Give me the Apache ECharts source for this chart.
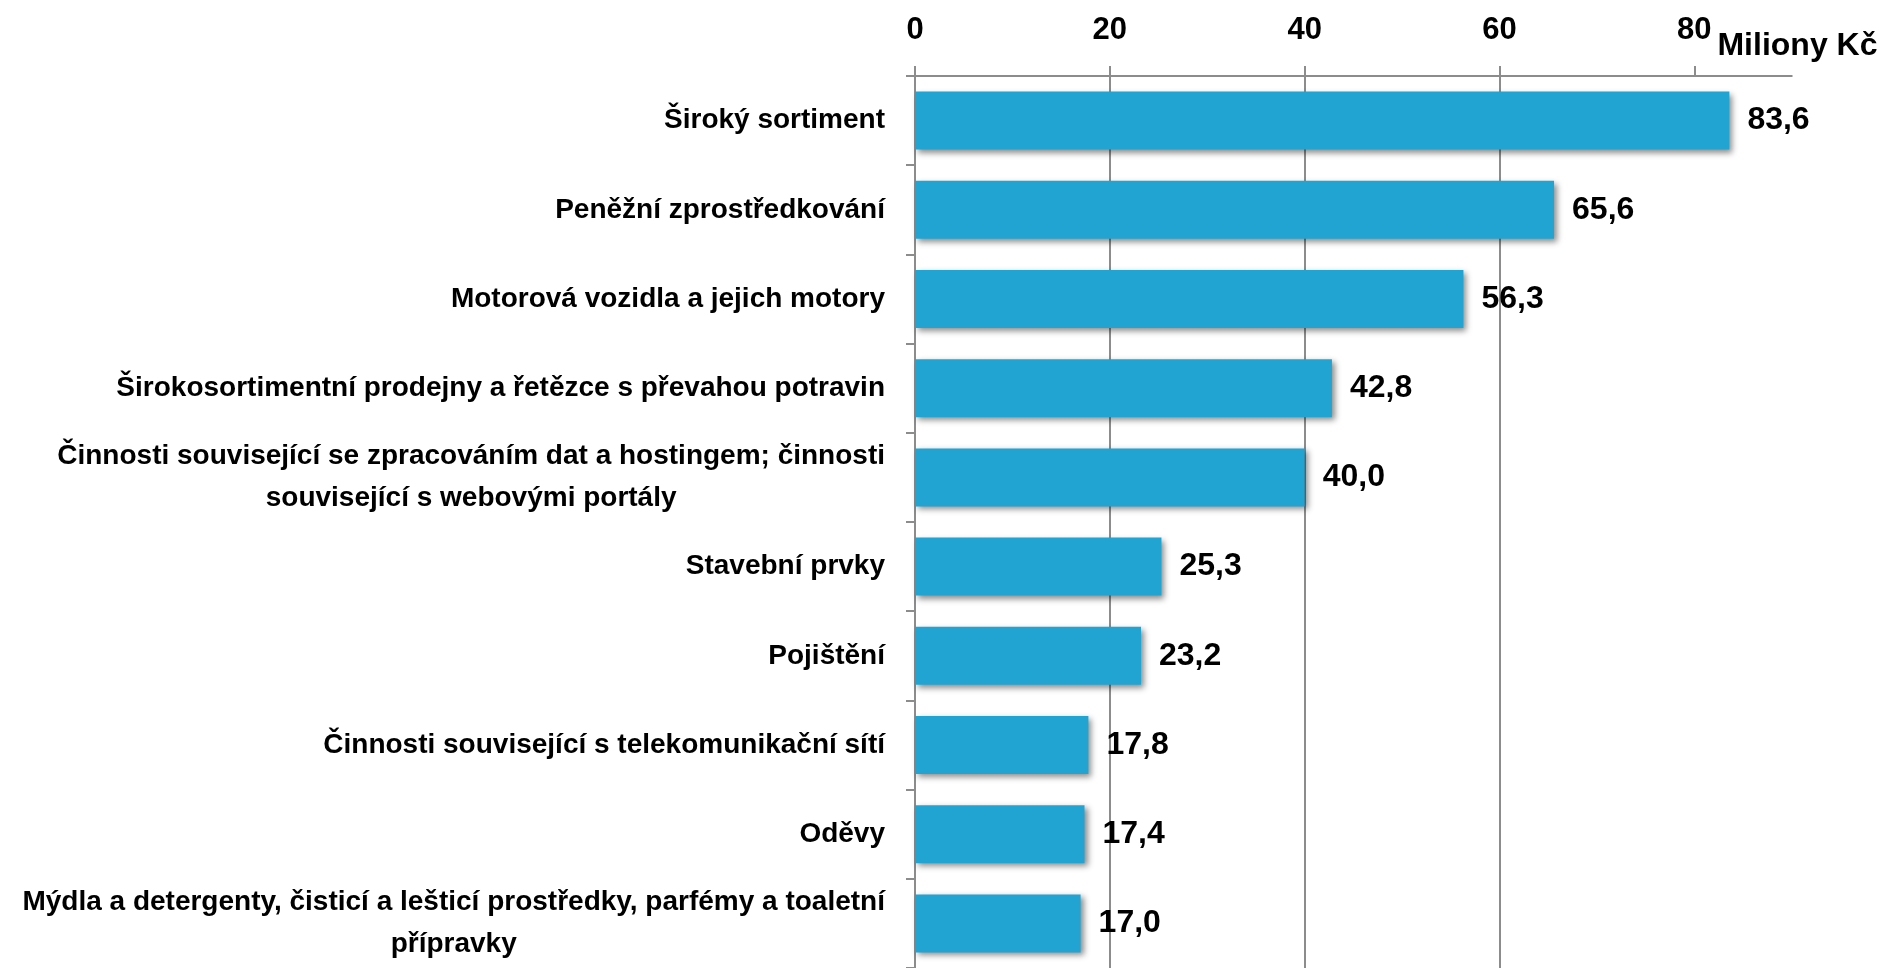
<!DOCTYPE html>
<html>
<head>
<meta charset="utf-8">
<script src="https://cdn.jsdelivr.net/npm/echarts@6/dist/echarts.min.js"></script>
<style>
html,body{margin:0;padding:0;background:#fff;}
#chart{width:1880px;height:968px;}
</style>
</head>
<body>
<div id="chart"></div>
<script>
var categories = [
  'Široký sortiment',
  'Peněžní zprostředkování',
  'Motorová vozidla a jejich motory',
  'Širokosortimentní prodejny a řetězce s převahou potravin',
  'Činnosti související se zpracováním dat a hostingem; činnosti\nsouvisející s webovými portály',
  'Stavební prvky',
  'Pojištění',
  'Činnosti související s telekomunikační sítí',
  'Oděvy',
  'Mýdla a detergenty, čisticí a lešticí prostředky, parfémy a toaletní\npřípravky'
];
var values = [83.6, 65.6, 56.3, 42.8, 40.0, 25.3, 23.2, 17.8, 17.4, 17.0];
var xTicks = [0, 20, 40, 60, 80];
var axisName = 'Miliony Kč';

var chart = echarts.init(document.getElementById('chart'), null, {renderer: 'canvas'});
var grey = '#8c8c8c';
var option = {
  animation: false,
  grid: {left: 915, right: 84, top: 76, bottom: -8, containLabel: false},
  xAxis: {
    type: 'value',
    position: 'top',
    min: 0, max: 90, interval: 20,
    name: axisName,
    nameLocation: 'end',
    nameGap: -76,
    nameTextStyle: {
      fontFamily: 'Liberation Sans', fontWeight: 'bold', fontSize: 32, color: '#000',
      align: 'left', verticalAlign: 'bottom', padding: [0, 0, 14, 0]
    },
    axisLine: {show: true, lineStyle: {color: grey, width: 2}},
    axisTick: {show: true, length: 10, inside: false, lineStyle: {color: grey, width: 2}, customValues: xTicks},
    axisLabel: {
      customValues: xTicks,
      margin: 30,
      fontFamily: 'Liberation Sans', fontWeight: 'bold', fontSize: 31, color: '#000'
    },
    splitLine: {show: true, showMaxLine: false, lineStyle: {color: grey, width: 2}}
  },
  yAxis: {
    type: 'category',
    inverse: true,
    data: categories,
    axisLine: {show: true, lineStyle: {color: grey, width: 2}},
    axisTick: {show: true, length: 9, alignWithLabel: false, lineStyle: {color: grey, width: 2}},
    axisLabel: {
      margin: 30,
      align: 'right',
      formatter: function (v) {
        return v.split('\n').map(function (l) { return '{c|' + l + '}'; }).join('\n');
      },
      rich: {
        c: {align: 'center', fontFamily: 'Liberation Sans', fontWeight: 'bold', fontSize: 28, lineHeight: 42, color: '#000'}
      }
    },
    splitLine: {show: false}
  },
  series: [{
    type: 'bar',
    data: values,
    barWidth: 58,
    itemStyle: {
      color: '#22A4D3',
      shadowColor: 'rgba(0,0,0,0.45)',
      shadowBlur: 6,
      shadowOffsetX: 3,
      shadowOffsetY: 3
    },
    label: {
      show: true,
      position: 'right',
      distance: 18,
      fontFamily: 'Liberation Sans', fontWeight: 'bold', fontSize: 32, color: '#000',
      formatter: function (p) { return p.value.toFixed(1).replace('.', ','); }
    }
  }]
};
chart.setOption(option);
</script>
</body>
</html>
